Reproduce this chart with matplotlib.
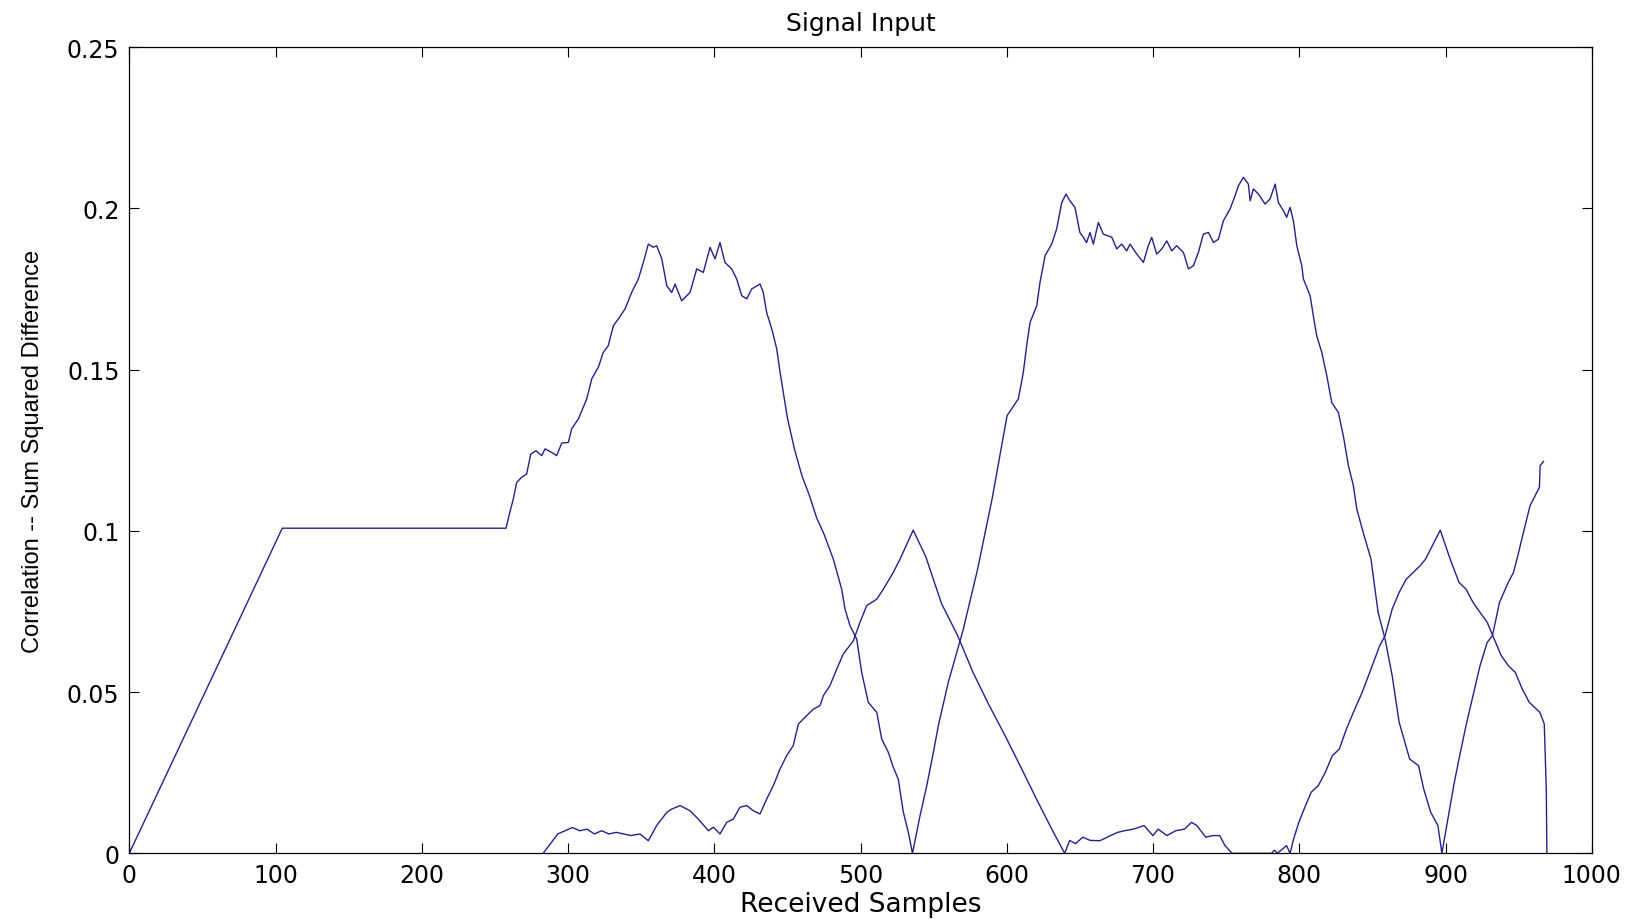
import matplotlib

matplotlib.use("Agg")
import matplotlib.pyplot as plt
import numpy as np


# (sample, value) pairs
SERIES_A = [
    (0, 0.0), (104.6, 0.1008), (257.6, 0.1008), (259.9, 0.1052), (262.6, 0.1099),
    (264.9, 0.1150), (268.3, 0.1166), (271.7, 0.1176), (274.5, 0.1238), (278.1, 0.1248),
    (282.0, 0.1233), (284.3, 0.1254), (288.8, 0.1243), (292.2, 0.1233), (295.7, 0.1272),
    (300.2, 0.1274), (302.5, 0.1316), (307.1, 0.1347), (312.8, 0.1409), (316.2, 0.1471),
    (320.7, 0.1507), (324.1, 0.1553), (327.5, 0.1574), (331.0, 0.1636), (334.4, 0.1657),
    (339.0, 0.1688), (343.5, 0.1739), (348.1, 0.1781), (351.5, 0.1832), (354.9, 0.1889),
    (358.3, 0.1879), (360.6, 0.1884), (364.1, 0.1843), (367.5, 0.1760), (370.9, 0.1739),
    (373.2, 0.1765), (377.7, 0.1713), (383.4, 0.1739), (388.0, 0.1812), (392.5, 0.1801),
    (397.1, 0.1879), (400.5, 0.1843), (403.9, 0.1894), (407.3, 0.1832), (411.9, 0.1812),
    (415.3, 0.1781), (418.8, 0.1729), (422.2, 0.1719), (425.6, 0.1750), (431.3, 0.1765),
    (433.5, 0.1739), (435.8, 0.1677), (439.3, 0.1626), (442.7, 0.1564), (445.0, 0.1491),
    (450.0, 0.135), (455.0, 0.125), (460.0, 0.117), (465.0, 0.111), (470.0, 0.104),
    (475.0, 0.099), (481.4, 0.0912), (487.1, 0.0819), (489.4, 0.0757), (492.8, 0.0706),
    (497.4, 0.0664), (500.8, 0.0561), (505.3, 0.0468), (511.1, 0.0437), (514.5, 0.0354),
    (519.0, 0.0313), (522.4, 0.0267), (525.8, 0.0230), (529.3, 0.0127), (532.7, 0.0065),
    (535.5, 0.0), (540.7, 0.0117), (545.3, 0.0210), (549.8, 0.0313), (553.2, 0.0396),
    (560.0, 0.053), (570.0, 0.069), (580.0, 0.088), (590.0, 0.110), (600.2, 0.1357),
    (607.9, 0.1409), (611.3, 0.1491), (613.6, 0.1574), (615.9, 0.1646), (620.5, 0.1698),
    (622.7, 0.1770), (626.2, 0.1853), (630.7, 0.1889), (634.1, 0.1936), (637.6, 0.2018),
    (640.5, 0.2044), (643.2, 0.2023), (646.6, 0.2003), (650.0, 0.1925), (652.3, 0.1910),
    (654.6, 0.1894), (656.9, 0.1925), (659.2, 0.1889), (662.6, 0.1956), (666.0, 0.1920),
    (671.8, 0.1910), (675.2, 0.1874), (678.6, 0.1889), (682.0, 0.1868), (684.3, 0.1889),
    (688.9, 0.1858), (693.4, 0.1832), (696.8, 0.1884), (699.1, 0.1910), (702.5, 0.1858),
    (706.0, 0.1874), (709.4, 0.1899), (712.8, 0.1868), (716.2, 0.1884), (720.8, 0.1863),
    (724.2, 0.1812), (727.6, 0.1822), (731.0, 0.1863), (734.4, 0.1920), (737.9, 0.1925),
    (741.3, 0.1894), (744.7, 0.1904), (748.1, 0.1961), (752.7, 0.1998), (756.1, 0.2039),
    (758.4, 0.2070), (761.8, 0.2096), (765.2, 0.2075), (766.4, 0.2023), (768.6, 0.2060),
    (772.1, 0.2044), (776.6, 0.2013), (780.0, 0.2029), (783.5, 0.2075), (785.7, 0.2018),
    (789.1, 0.1993), (791.4, 0.1972), (793.7, 0.2003), (796.0, 0.1961), (798.3, 0.1884),
    (801.7, 0.1822), (802.8, 0.1781), (807.4, 0.1729), (809.6, 0.1667), (811.9, 0.1605),
    (815.4, 0.1553), (818.8, 0.1481), (822.2, 0.1398), (826.7, 0.1367), (830.1, 0.1295),
    (833.6, 0.1202), (837.0, 0.1140), (839.3, 0.1068), (844.0, 0.099), (849.0, 0.0913),
    (853.9, 0.0747), (858.7, 0.0664), (863.5, 0.0551), (868.3, 0.0406), (875.5, 0.0292),
    (881.5, 0.0272), (885.1, 0.0199), (889.9, 0.0127), (894.8, 0.0086), (897.5, 0.0),
    (902.0, 0.0117), (905.6, 0.0210), (909.2, 0.0292), (914.0, 0.0396), (918.8, 0.0489),
    (923.6, 0.0582), (928.5, 0.0654), (932.1, 0.0675), (936.9, 0.0778), (942.9, 0.0840),
    (946.5, 0.0871), (948.9, 0.0913), (953.0, 0.099), (957.8, 0.1078), (964.2, 0.1135),
    (964.7, 0.1202), (967.0, 0.1215),
]

SERIES_B = [
    (283.0, 0.0), (288.0, 0.003), (293.0, 0.006), (298.0, 0.007), (303.0, 0.008),
    (308.0, 0.007), (313.0, 0.0075), (318.0, 0.006), (323.0, 0.007), (328.0, 0.006),
    (333.0, 0.0065), (338.0, 0.006), (343.0, 0.0055), (349.2, 0.006), (354.9, 0.0039),
    (360.6, 0.0086), (367.5, 0.0127), (370.9, 0.0137), (376.6, 0.0148), (383.4, 0.0132),
    (389.1, 0.0106), (396.0, 0.0070), (399.4, 0.0081), (403.9, 0.0060), (408.5, 0.0096),
    (413.0, 0.0106), (417.6, 0.0143), (422.2, 0.0148), (426.7, 0.0132), (431.3, 0.0122),
    (435.8, 0.0168), (440.4, 0.0210), (444.9, 0.0261), (449.5, 0.0303), (454.0, 0.0334),
    (457.5, 0.0401), (463.2, 0.0427), (467.7, 0.0447), (472.3, 0.0458), (474.6, 0.0489),
    (479.1, 0.0520), (483.7, 0.0571), (488.2, 0.0618), (495.1, 0.0659), (499.6, 0.0716),
    (504.2, 0.0768), (511.1, 0.0788), (515.6, 0.0819), (522.4, 0.0871), (527.0, 0.0912),
    (536.0, 0.1002), (544.6, 0.092), (555.4, 0.0774), (566.2, 0.0677), (577.0, 0.056),
    (587.8, 0.046), (598.6, 0.0367), (609.4, 0.0269), (620.1, 0.017), (631.0, 0.0073),
    (639.6, 0.0), (643.0, 0.004), (647.0, 0.003), (652.0, 0.005), (657.0, 0.004),
    (663.6, 0.0039), (671.0, 0.0055), (675.8, 0.0065), (680.6, 0.0070), (686.6, 0.0075),
    (693.9, 0.0086), (699.9, 0.0055), (703.5, 0.0075), (709.5, 0.0055), (715.5, 0.0070),
    (721.5, 0.0075), (726.3, 0.0096), (730.0, 0.0086), (736.0, 0.0050), (740.8, 0.0055),
    (745.6, 0.0055), (749.2, 0.0024), (754.0, 0.0), (781.0, 0.0), (783.0, 0.001),
    (785.0, 0.0), (791.3, 0.0024), (793.7, 0.0), (796.1, 0.0044), (799.7, 0.0096),
    (803.3, 0.0137), (808.1, 0.0189), (813.0, 0.0210), (817.8, 0.0251), (822.6, 0.0303),
    (827.4, 0.0323), (832.2, 0.0385), (837.0, 0.0437), (843.0, 0.0499), (849.0, 0.0571),
    (855.0, 0.0644), (858.7, 0.0675), (863.5, 0.0757), (868.3, 0.0809), (873.1, 0.0850),
    (877.9, 0.0871), (882.7, 0.0892), (886.3, 0.0912), (896.4, 0.1002), (903.2, 0.0912),
    (909.2, 0.0840), (914.0, 0.0819), (918.8, 0.0778), (923.6, 0.0747), (928.5, 0.0716),
    (933.3, 0.0664), (938.1, 0.0613), (942.9, 0.0582), (947.7, 0.0561), (952.5, 0.0509),
    (957.3, 0.0468), (964.5, 0.0437), (967.5, 0.0401), (968.9, 0.0199), (969.3, 0.0),
]

X_TICKS = [0, 100, 200, 300, 400, 500, 600, 700, 800, 900, 1000]
Y_TICKS = [0, 0.05, 0.1, 0.15, 0.2, 0.25]
Y_TICK_LABELS = ["0", "0.05", "0.1", "0.15", "0.2", "0.25"]

LINE_COLOR = "#22228a"

# the source image is stretched sideways, so a wide face reads closer
plt.rcParams["font.family"] = ["DejaVu Sans"]

fig = plt.figure(figsize=(16.49, 9.2), dpi=100)
ax = fig.add_axes([0.0784, 0.0714, 0.8869, 0.8764])

for series in (SERIES_A, SERIES_B):
    xy = np.asarray(series, dtype=float)
    ax.plot(xy[:, 0], xy[:, 1], color=LINE_COLOR, lw=1.0)

ax.set_xlim(0, 1000)
ax.set_ylim(0, 0.25)
ax.set_xticks(X_TICKS)
ax.set_yticks(Y_TICKS)
ax.set_yticklabels(Y_TICK_LABELS)
ax.tick_params(direction="in", length=7, width=0.8, top=True, right=True,
               labelsize=17, pad=7)
for spine in ax.spines.values():
    spine.set_linewidth(0.9)

ax.set_title("Signal Input", fontsize=18, pad=12)
ax.set_xlabel("Received Samples", fontsize=19)
ax.xaxis.set_label_coords(0.5, -0.047)
ax.set_ylabel("Correlation -- Sum Squared Difference", fontsize=17,
              family=["Liberation Sans", "DejaVu Sans"])
ax.yaxis.set_label_coords(-0.058, 0.5)

fig.savefig("out.png", dpi=100)
